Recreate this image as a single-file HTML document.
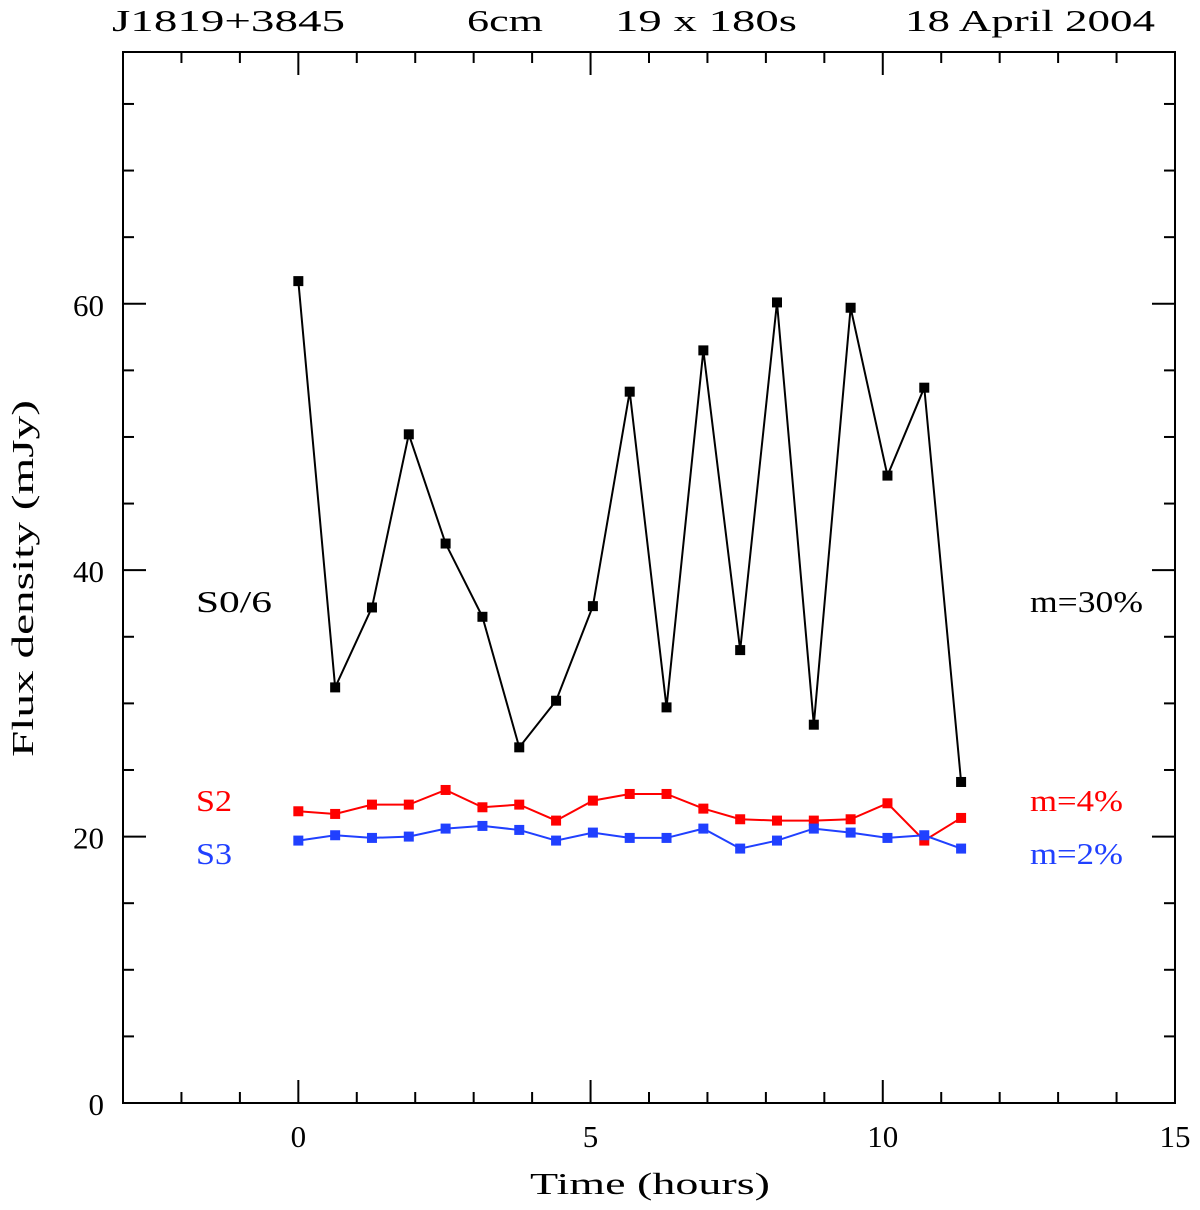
<!DOCTYPE html>
<html><head><meta charset="utf-8"><style>
body{margin:0;background:#fff}
svg text{font-family:"Liberation Serif",serif;font-size:31px}
</style></head><body>
<svg id="chart" width="1200" height="1205" xmlns="http://www.w3.org/2000/svg">
<g id="top">
<text x="112" y="31" textLength="233" lengthAdjust="spacingAndGlyphs">J1819+3845</text>
<text x="467" y="31" textLength="76" lengthAdjust="spacingAndGlyphs">6cm</text>
<text x="615" y="31" textLength="182" lengthAdjust="spacingAndGlyphs">19 x 180s</text>
<text x="905" y="31" textLength="250" lengthAdjust="spacingAndGlyphs">18 April 2004</text>
</g>
<rect x="123" y="52" width="1052" height="1051" fill="none" stroke="#000" stroke-width="2"/>
<g id="axes"></g>
<g id="series"></g>
<text x="530" y="1194" textLength="240" lengthAdjust="spacingAndGlyphs">Time (hours)</text>
<text transform="translate(33,757) rotate(-90)" textLength="357" lengthAdjust="spacingAndGlyphs">Flux density (mJy)</text>
<text x="196" y="612" textLength="76" lengthAdjust="spacingAndGlyphs" fill="#000">S0/6</text>
<text x="196" y="811" textLength="36" lengthAdjust="spacingAndGlyphs" fill="#f00">S2</text>
<text x="196" y="864" textLength="36" lengthAdjust="spacingAndGlyphs" fill="#2040ff">S3</text>
<text x="1030" y="612" textLength="113" lengthAdjust="spacingAndGlyphs" fill="#000">m=30%</text>
<text x="1030" y="811" textLength="93" lengthAdjust="spacingAndGlyphs" fill="#f00">m=4%</text>
<text x="1030" y="864" textLength="93" lengthAdjust="spacingAndGlyphs" fill="#2040ff">m=2%</text>
</svg>
<script>
const times=[0,0.63,1.26,1.89,2.52,3.15,3.78,4.41,5.04,5.67,6.3,6.93,7.56,8.19,8.82,9.45,10.08,10.71,11.34];
const s0=[61.7,31.2,37.2,50.2,42.0,36.5,26.7,30.2,37.3,53.4,29.7,56.5,34.0,60.1,28.4,59.7,47.1,53.7,24.1];
const s2=[21.9,21.7,22.4,22.4,23.5,22.2,22.4,21.2,22.7,23.2,23.2,22.1,21.3,21.2,21.2,21.3,22.5,19.7,21.4];
const s3=[19.7,20.1,19.9,20.0,20.6,20.8,20.5,19.7,20.3,19.9,19.9,20.6,19.1,19.7,20.6,20.3,19.9,20.1,19.1];
const xTicks=[0,5,10,15];
const yTicks=[0,20,40,60];
const X0=123,X1=1175,Y0=1103,Y1=52,xmin=-3,xmax=15,ymin=0,ymax=78.9;
const sx=v=>X0+(v-xmin)/(xmax-xmin)*(X1-X0);
const sy=v=>Y0-(v-ymin)/(ymax-ymin)*(Y0-Y1);
const NS="http://www.w3.org/2000/svg";
function mk(tag,attrs,parent){const e=document.createElementNS(NS,tag);for(const k in attrs)e.setAttribute(k,attrs[k]);parent.appendChild(e);return e;}
const ax=document.getElementById('axes');
for(let v=-2;v<=14;v++){const x=sx(v);const maj=v%5===0;const L=maj?23:11;
 const t1=mk('line',{x1:x,x2:x,y1:Y0,y2:Y0-L,stroke:'#000','stroke-width':2},ax);
 
 
 const t2=mk('line',{x1:x,x2:x,y1:Y1,y2:Y1+L,stroke:'#000','stroke-width':2},ax);
 
 }
for(let v=5;v<=75;v+=5){const y=sy(v);const maj=v%20===0;const L=maj?23:11;
 const t1=mk('line',{x1:X0,x2:X0+L,y1:y,y2:y,stroke:'#000','stroke-width':2},ax);
 
 
 const t2=mk('line',{x1:X1,x2:X1-L,y1:y,y2:y,stroke:'#000','stroke-width':2},ax);
 
 }
xTicks.forEach(v=>{const t=mk('text',{x:sx(v),y:1147,'text-anchor':'middle'},ax);t.textContent=v;
 
 });
yTicks.forEach(v=>{const t=mk('text',{x:104,y:sy(v)+12,'text-anchor':'end'},ax);t.textContent=v;
 
 });
const sg=document.getElementById('series');
[[s0,'#000','s0'],[s2,'#f00','s2'],[s3,'#2040ff','s3']].forEach(([d,c,n])=>{
 const pl=mk('polyline',{points:d.map((v,i)=>sx(times[i])+','+sy(v)).join(' '),fill:'none',stroke:c,'stroke-width':2},sg);
 
 
 d.forEach((v,i)=>{const r=mk('rect',{x:sx(times[i])-5,y:sy(v)-5,width:10,height:10,fill:c},sg);
  
  });
});
</script>
</body></html>
